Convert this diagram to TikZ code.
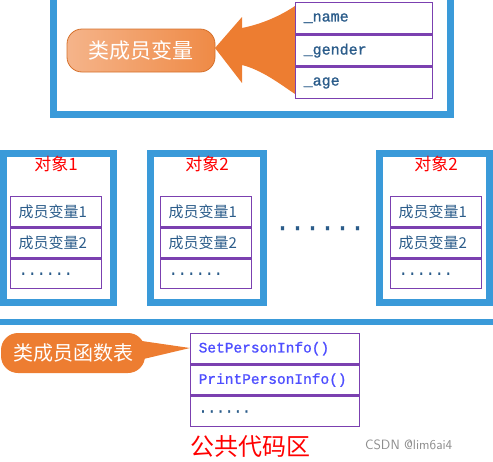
\documentclass[tikz,border=0pt]{standalone}
\usepackage{fontspec}
\newfontfamily\cjk{Noto Sans CJK SC}
\newfontfamily\code[FakeBold=1.2]{Liberation Mono}
\definecolor{frameblue}{HTML}{3A9AD9}
\definecolor{purp}{HTML}{7B40B0}
\definecolor{orng}{HTML}{ED7D31}
\definecolor{orngl}{HTML}{F5B48A}
\definecolor{txtblue}{HTML}{2B5C8A}
\definecolor{fnblue}{HTML}{4F4FFF}
\tikzset{
  x=1pt, y=-1pt,
  frame/.style={draw=frameblue, line width=7pt},
  cell/.style={draw=purp, line width=1.4pt, anchor=north west, inner xsep=8pt, inner ysep=0pt, align=left},
  vcell/.style={cell, text width=121pt, minimum height=31pt, font=\code\fontsize{15}{15}\selectfont, text=txtblue},
  ocell/.style={cell, text width=75pt, minimum height=29.7pt, font=\cjk\fontsize{15}{15}\selectfont, text=txtblue},
  fcell/.style={cell, text width=153pt, minimum height=30pt, font=\code\fontsize{14.5}{15}\selectfont, text=fnblue},
  objtitle/.style={font=\cjk\fontsize{17}{17}\selectfont, text=red},
}
\begin{document}
\begin{tikzpicture}
\useasboundingbox (0,0) rectangle (493,461);
% top class frame
\draw[frame] (53.5,-10) -- (53.5,114) -- (450.5,114) -- (450.5,-10);
% orange arrow
\fill[orng] (215,48) -- (242,17) -- (242,28) .. controls (262,24) and (280,16) .. (295,6)
  -- (295,94) .. controls (280,84) and (262,70) .. (242,65) -- (242,83) -- cycle;
% member variable table
\node[vcell] (v1) at (295,2) {\_name};
\node[vcell] (v2) at (v1.south west) {\_gender};
\node[vcell] (v3) at (v2.south west) {\_age};
% label
\node[draw=orng!90!black, line width=0.8pt, rounded corners=15pt, left color=orngl, right color=orng!90,
  minimum width=148pt, minimum height=43pt, inner sep=0pt, text=white,
  font=\cjk\fontsize{21}{21}\selectfont] (lbl) at (141,50.5) {类成员变量};
% object boxes
\node[frame, minimum width=110pt, minimum height=149pt, inner sep=0pt] (o1) at (58.5,228) {};
\node[frame, minimum width=113pt, minimum height=149pt, inner sep=0pt] (o2) at (207,228) {};
\node[frame, minimum width=110pt, minimum height=149pt, inner sep=0pt] (o3) at (434.5,228) {};
\node[objtitle] (t1) at (56,164) {对象1};
\node[objtitle] (t2) at (207,164) {对象2};
\node[objtitle] (t3) at (436,164) {对象2};
% object tables
\node[ocell] (a1) at (10,196) {成员变量1};
\node[ocell] (a2) at (a1.south west) {成员变量2};
\node[ocell, font=\code\fontsize{15}{15}\selectfont] (a3) at (a2.south west) {......};
\node[ocell] (b1) at (160,196) {成员变量1};
\node[ocell] (b2) at (b1.south west) {成员变量2};
\node[ocell, font=\code\fontsize{15}{15}\selectfont] (b3) at (b2.south west) {......};
\node[ocell] (c1) at (390,196) {成员变量1};
\node[ocell] (c2) at (c1.south west) {成员变量2};
\node[ocell, font=\code\fontsize{15}{15}\selectfont] (c3) at (c2.south west) {......};
% middle dots
\node[font=\code\fontsize{25}{25}\selectfont, text=txtblue, inner sep=0pt, anchor=base] (dots) at (320,230) {......};
% separator line
\draw[draw=frameblue, line width=6pt] (-10,322) -- (503,322);
% callout for functions
\fill[orng] (135,340) -- (190,348) -- (135,361) -- cycle;
\node[fill=orng, rounded corners=17pt, minimum width=144pt, minimum height=40pt, inner sep=0pt,
  text=white, font=\cjk\fontsize{20}{20}\selectfont] (flbl) at (73,353) {类成员函数表};
% function table
\node[fcell] (f1) at (190,333) {SetPersonInfo()};
\node[fcell] (f2) at (f1.south west) {PrintPersonInfo()};
\node[fcell, text=txtblue] (f3) at (f2.south west) {......};
% bottom caption
\node[font=\cjk\fontsize{24}{24}\selectfont, text=red, inner sep=0pt] (pub) at (250.5,447) {公共代码区};
\node[font=\fontsize{13.5}{13.5}\selectfont\sffamily, text=black!45, inner sep=0pt, anchor=west] (wm) at (365,445) {CSDN @lim6ai4};
\end{tikzpicture}
\end{document}
